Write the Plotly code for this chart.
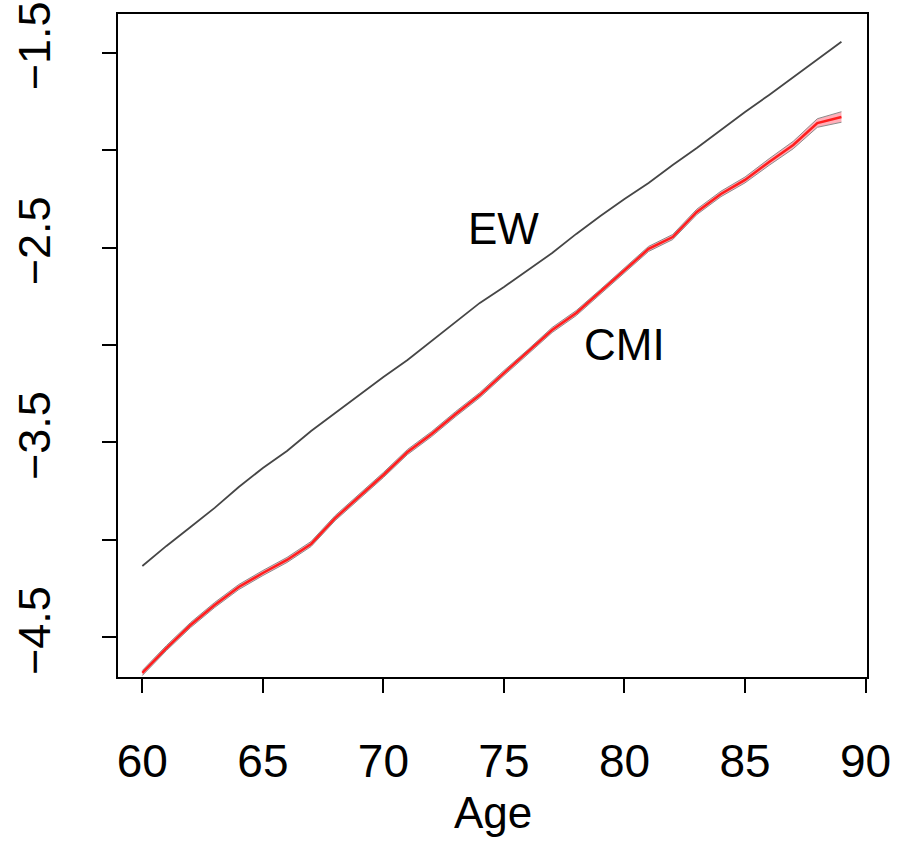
import plotly.graph_objects as go

ages = list(range(60, 90))
ew = [-4.134, -4.031, -3.934, -3.836, -3.729, -3.631, -3.544, -3.441, -3.349, -3.257,
      -3.164, -3.077, -2.979, -2.882, -2.784, -2.702, -2.615, -2.528, -2.430, -2.338,
      -2.251, -2.169, -2.076, -1.989, -1.897, -1.804, -1.717, -1.625, -1.532, -1.444]
cmi = [-4.683, -4.555, -4.437, -4.334, -4.242, -4.170, -4.103, -4.021, -3.888, -3.780,
       -3.667, -3.549, -3.457, -3.354, -3.257, -3.144, -3.036, -2.923, -2.836, -2.728,
       -2.620, -2.507, -2.446, -2.317, -2.225, -2.153, -2.061, -1.974, -1.861, -1.830]
cmi_halfwidth = [0.013, 0.013, 0.013, 0.013, 0.013, 0.013, 0.013, 0.013, 0.013, 0.013,
                 0.013, 0.013, 0.013, 0.013, 0.013, 0.013, 0.013, 0.013, 0.013, 0.013,
                 0.013, 0.013, 0.013, 0.014, 0.014, 0.015, 0.017, 0.019, 0.022, 0.027]
x_tick_vals = [60, 65, 70, 75, 80, 85, 90]
x_tick_text = ["60", "65", "70", "75", "80", "85", "90"]
y_tick_vals = [-4.5, -4.0, -3.5, -3.0, -2.5, -2.0, -1.5]
y_tick_text = ["\u22124.5", "", "\u22123.5", "", "\u22122.5", "", "\u22121.5"]

cmi_upper = [c + h for c, h in zip(cmi, cmi_halfwidth)]
cmi_lower = [c - h for c, h in zip(cmi, cmi_halfwidth)]

FONT = "Liberation Sans, Arial, sans-serif"

fig = go.Figure()
fig.add_trace(go.Scatter(x=ages, y=ew, mode="lines",
                         line=dict(color="rgb(70,70,70)", width=1.8), showlegend=False))
fig.add_trace(go.Scatter(x=ages, y=cmi_lower, mode="lines",
                         line=dict(color="rgb(140,140,140)", width=1), showlegend=False))
fig.add_trace(go.Scatter(x=ages, y=cmi_upper, mode="lines", fill="tonexty",
                         fillcolor="rgb(255,175,185)",
                         line=dict(color="rgb(140,140,140)", width=1), showlegend=False))
fig.add_trace(go.Scatter(x=ages, y=cmi, mode="lines",
                         line=dict(color="rgb(255,30,30)", width=2.5), showlegend=False))

fig.add_annotation(x=75, y=-2.4, text="EW", showarrow=False,
                   font=dict(family=FONT, size=44, color="black"))
fig.add_annotation(x=80, y=-3.0, text="CMI", showarrow=False,
                   font=dict(family=FONT, size=44, color="black"))
fig.add_annotation(x=0.5, y=-0.205, xref="paper", yref="paper", text="Age",
                   showarrow=False, yanchor="middle",
                   font=dict(family=FONT, size=44, color="black"))

fig.update_xaxes(range=[58.99, 90.06], tickmode="array", tickvals=x_tick_vals,
                 ticktext=x_tick_text, ticks="outside", ticklen=14, tickwidth=2,
                 tickcolor="black", showline=True, linecolor="black", linewidth=2,
                 mirror=True, showgrid=False, zeroline=False, ticklabelstandoff=29,
                 automargin=False, ticklabeloverflow="allow",
                 tickfont=dict(family=FONT, size=46, color="black"))
fig.update_yaxes(range=[-4.7036, -1.3016], tickmode="array", tickvals=y_tick_vals,
                 ticktext=y_tick_text, ticks="outside", ticklen=14, tickwidth=2,
                 tickcolor="black", showline=True, linecolor="black", linewidth=2,
                 mirror=True, showgrid=False, zeroline=False, tickangle=-90,
                 ticklabelstandoff=34, automargin=False, ticklabeloverflow="allow",
                 tickfont=dict(family=FONT, size=45, color="black"))

fig.update_layout(width=897, height=844, margin=dict(l=118, r=30, t=14, b=167),
                  plot_bgcolor="white", paper_bgcolor="white")

fig.write_html("out.html", config={"displayModeBar": False},
               post_script="document.body.style.margin='0';")
